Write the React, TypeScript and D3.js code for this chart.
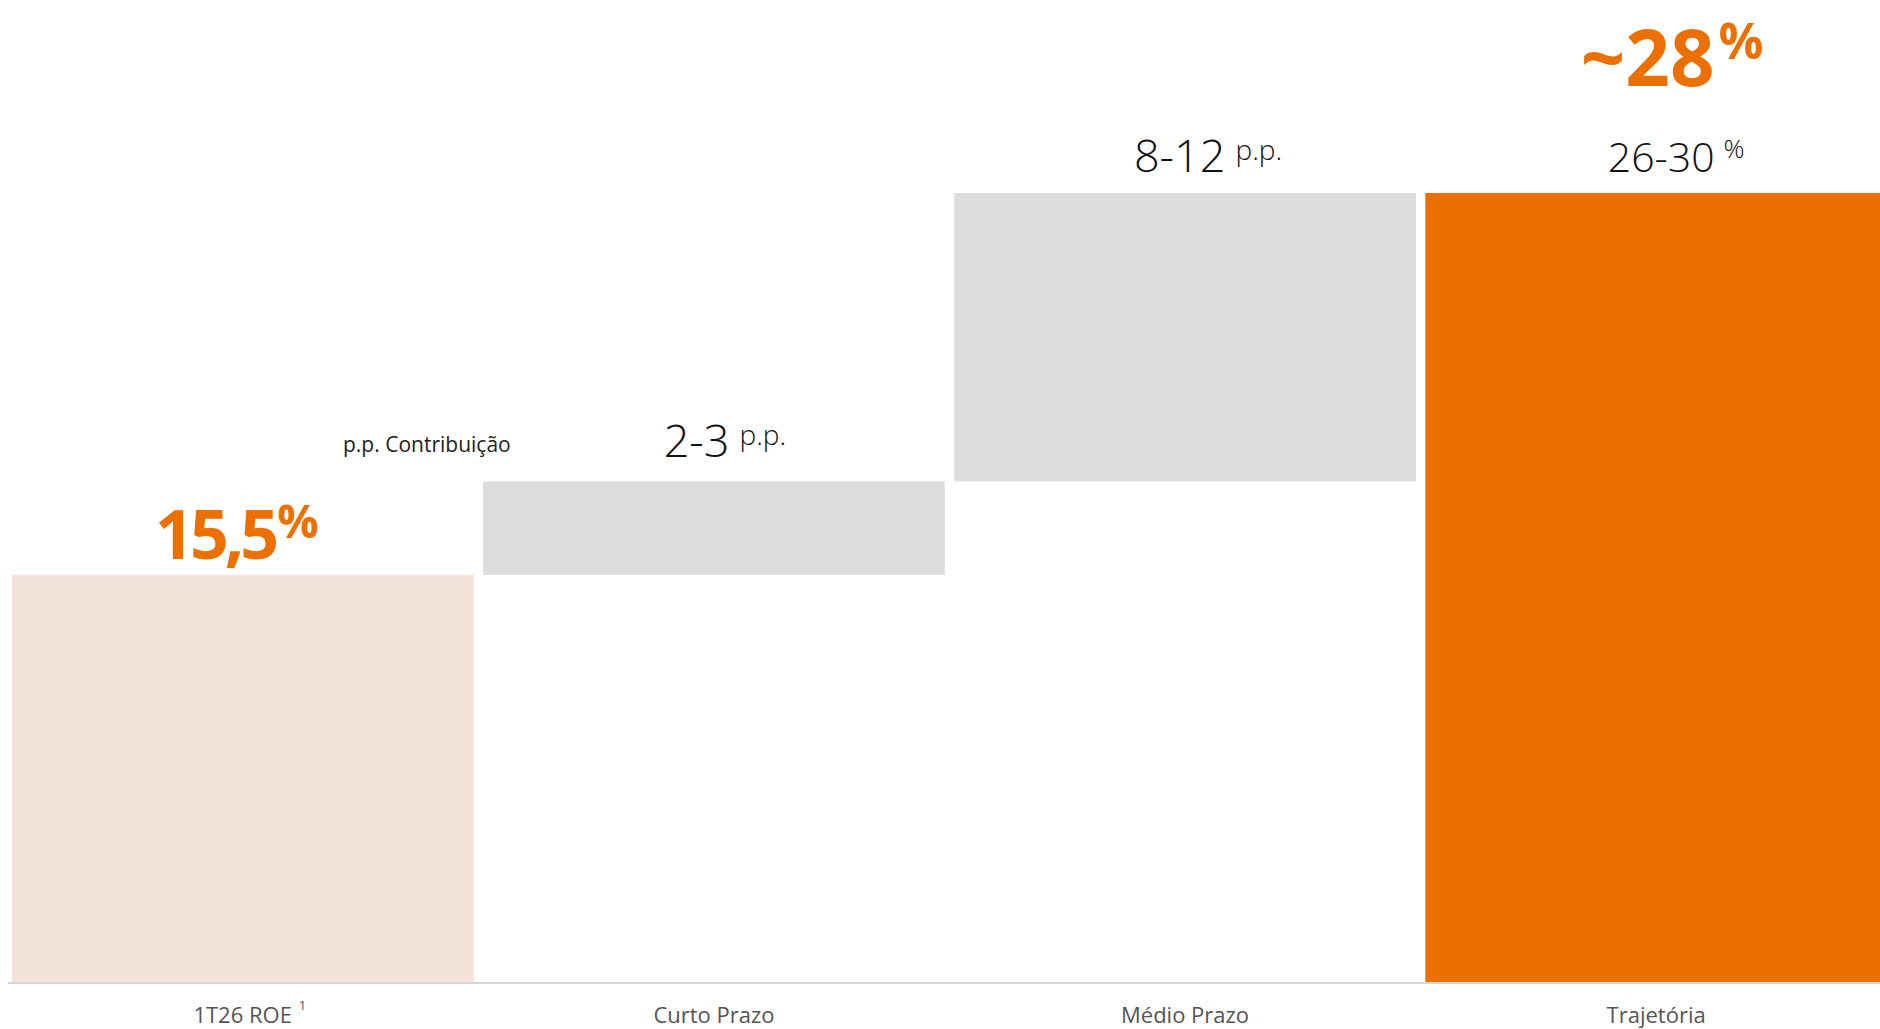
import React from "react";
import * as d3 from "d3";

const categories = ["1T26 ROE", "Curto Prazo", "Médio Prazo", "Trajetória"];
const barStarts = [0, 15.5, 19.05, 0];
const barValues = [15.5, 3.55, 10.95, 30];
const barKinds = ["base", "step", "step", "total"];
const mainLabels = ["15,5", "2-3", "8-12", "26-30"];
const supLabels = ["%", "p.p.", "p.p.", "%"];
const headline = { main: "~28", sup: "%" };
const noteLabel = "p.p. Contribuição";

const W = 1880;
const H = 1029;
const FONT = "'Open Sans', 'Noto Sans', sans-serif";

export default function App() {
  const x = d3.scaleBand<string>().domain(categories).range([12, 1887]).paddingInner(0.02).paddingOuter(0);
  const y = d3.scaleLinear().domain([0, 30]).range([983, 193]);
  const fills: Record<string, string> = { base: "#F3E3DB", step: "#DCDCDC", total: "#EC7000" };

  const bars = categories.map((c, i) => {
    const y0 = y(barStarts[i]);
    const y1 = y(barStarts[i] + barValues[i]);
    return { c, i, x: x(c)!, w: x.bandwidth(), top: y1, bottom: y0 };
  });

  return (
    <svg width={W} height={H} style={{ position: "absolute", left: 0, top: 0, background: "#fff" }} fontFamily={FONT}>
      {bars.map((b) => (
        <rect key={b.c} x={b.x} y={b.top} width={b.w} height={b.bottom - b.top} fill={fills[barKinds[b.i]]} />
      ))}
      <line x1={8} x2={W} y1={983} y2={983} stroke="#D6D6D6" strokeWidth={2} />

      {/* category labels */}
      {bars.map((b) => (
        <text key={"cat" + b.c} x={b.x + b.w / 2 + (b.i === 0 ? 7 : 0)} y={1023} textAnchor="middle" fontSize={22} fill="#555">
          {b.c}
          {b.i === 0 && (
            <tspan fontSize={13} dx={7} dy={-13}>1</tspan>
          )}
        </text>
      ))}

      {/* base value */}
      <text x={bars[0].x + bars[0].w / 2 - 6} y={bars[0].top - 16} textAnchor="middle" fill="#EC7000" fontWeight={700}>
        <tspan fontSize={68} letterSpacing={-4}>{mainLabels[0]}</tspan>
        <tspan fontSize={46} dx={2} dy={-21}>{supLabels[0]}</tspan>
      </text>

      {/* step labels */}
      {[1, 2].map((i) => (
        <text key={"lab" + i} x={bars[i].x + bars[i].w / 2 + (i === 1 ? 11 : 23)} y={bars[i].top - (i === 1 ? 24 : 21)} textAnchor="middle" fill="#111" fontWeight={300}>
          <tspan fontSize={45}>{mainLabels[i]}</tspan>
          <tspan fontSize={28} dx={10} dy={-12}>{supLabels[i]}</tspan>
        </text>
      ))}

      <text x={bars[3].x + bars[3].w / 2 + 20} y={bars[3].top - 21} textAnchor="middle" fill="#111" fontWeight={300}>
        <tspan fontSize={41}>{mainLabels[3]}</tspan>
        <tspan fontSize={26} dx={9} dy={-14}>{supLabels[3]}</tspan>
      </text>

      <text x={bars[3].x + bars[3].w / 2 + 16} y={86} textAnchor="middle" fill="#EC7000" fontWeight={700}>
        <tspan fontSize={78}>{headline.main}</tspan>
        <tspan fontSize={50} dx={4} dy={-27}>{headline.sup}</tspan>
      </text>

      <text x={343} y={452} fontSize={21} fill="#222">{noteLabel}</text>
    </svg>
  );
}
